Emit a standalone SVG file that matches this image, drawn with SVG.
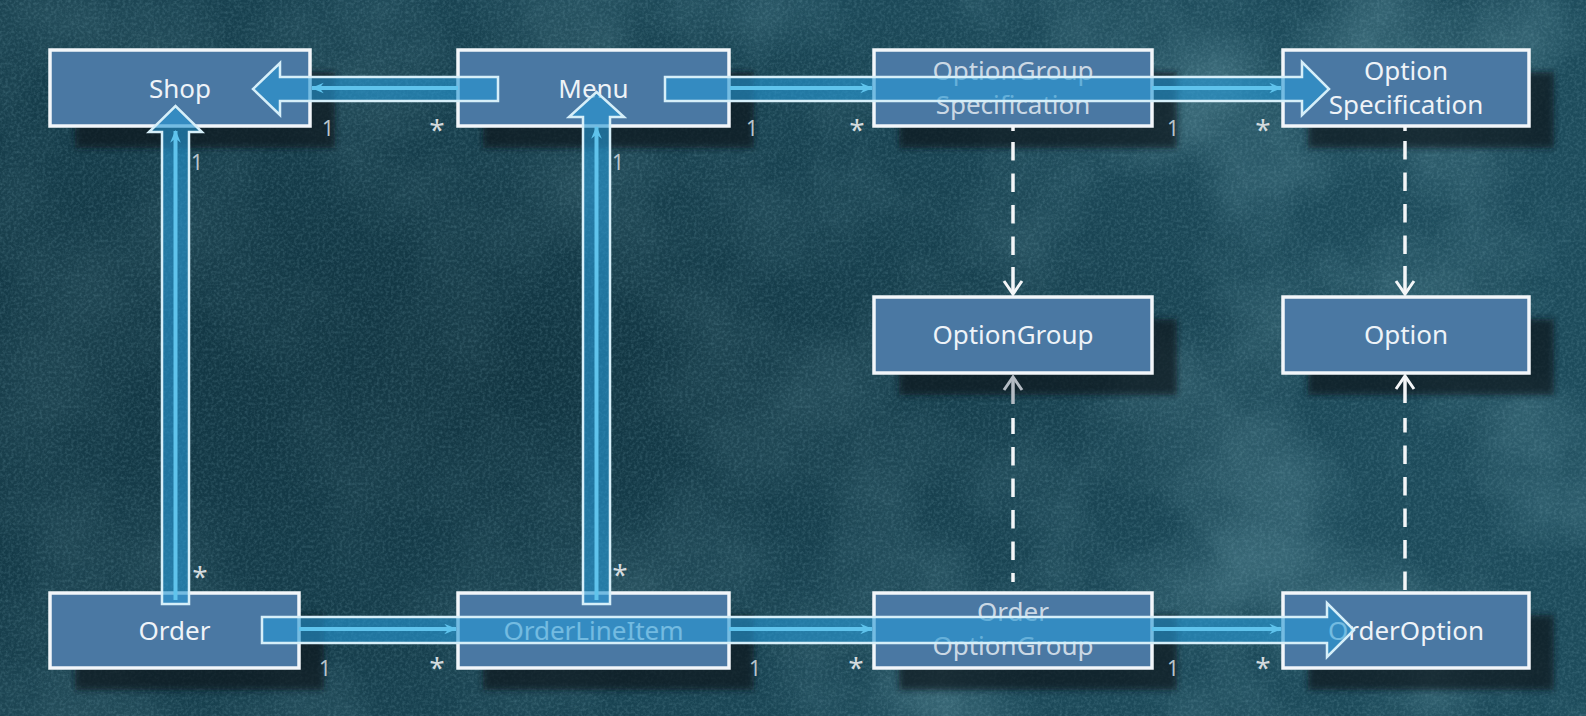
<svg xmlns="http://www.w3.org/2000/svg" width="1586" height="716" viewBox="0 0 1586 716">
<defs>
<style>
.box{fill:#4a78a3;stroke:#f2f6fa;stroke-width:3.5}
.shadow{fill:#08171d;opacity:0.7;filter:url(#blur)}
.t{font-family:"Noto Sans","Open Sans","DejaVu Sans",sans-serif;font-size:26px;fill:#eef3f8;text-anchor:middle;dominant-baseline:central}
.band{fill:#2698d4;fill-opacity:0.62;stroke:#d6eff9;stroke-width:2.5;stroke-linejoin:miter}
.inner{stroke:#5fc3ec;stroke-width:4;fill:none;marker-end:url(#ih)}
.dash{stroke:#f4f6f8;stroke-width:3.5;fill:none;stroke-dasharray:18.5 13}
.solid{stroke:#f4f6f8;stroke-width:3.5;fill:none}
.head{stroke:#f4f6f8;stroke-width:3;fill:none;stroke-linejoin:miter}
.m1{font-family:"Noto Sans","DejaVu Sans",sans-serif;font-size:21px;fill:#b9c5cc;text-anchor:middle}
.ms{font-family:"Noto Sans","DejaVu Sans",sans-serif;font-size:28px;fill:#d3dade;text-anchor:middle}
</style>
<filter id="blur" x="-10%" y="-20%" width="120%" height="140%"><feGaussianBlur stdDeviation="3"/></filter>
<filter id="tex" x="0" y="0" width="100%" height="100%">
<feTurbulence type="fractalNoise" baseFrequency="0.006" numOctaves="5" seed="7"/>
<feColorMatrix type="matrix" values="0 0 0 0 0.2  0 0 0 0 0.43  0 0 0 0 0.5  1.5 0 0 0 -0.6"/>
</filter>
<filter id="grain" x="0" y="0" width="100%" height="100%">
<feTurbulence type="fractalNoise" baseFrequency="0.35" numOctaves="2" seed="2"/>
<feColorMatrix type="matrix" values="0 0 0 0 0.28  0 0 0 0 0.52  0 0 0 0 0.6  1.4 0 0 0 -0.55"/>
</filter>
<radialGradient id="vig" cx="0.32" cy="0.52" r="0.55">
<stop offset="0" stop-color="#0c2a35" stop-opacity="0.6"/>
<stop offset="1" stop-color="#0c2a35" stop-opacity="0"/>
</radialGradient>
<linearGradient id="tl" x1="0" y1="0" x2="1" y2="0">
<stop offset="0" stop-color="#0f2f3b" stop-opacity="0.45"/>
<stop offset="0.5" stop-color="#0f2f3b" stop-opacity="0.1"/>
<stop offset="1" stop-color="#0f2f3b" stop-opacity="0"/>
</linearGradient>
<marker id="ih" viewBox="0 0 12 10" refX="11" refY="5" markerWidth="3.2" markerHeight="3.2" orient="auto" markerUnits="strokeWidth">
<path d="M0,0 L12,5 L0,10 L4,5 Z" fill="#5fc3ec"/>
</marker>
</defs>

<g id="background">
<rect width="1586" height="716" fill="#1d4b5b"/>
<rect width="1586" height="716" filter="url(#tex)" opacity="0.5"/>
<rect width="1586" height="716" fill="url(#tl)"/>
<rect width="1586" height="716" fill="url(#vig)"/>
<rect width="1586" height="716" filter="url(#grain)" opacity="0.3"/>
</g>

<g id="shadows">
<rect class="shadow" x="75" y="72" width="260" height="76"/>
<rect class="shadow" x="483" y="72" width="271" height="76"/>
<rect class="shadow" x="899" y="72" width="278" height="76"/>
<rect class="shadow" x="1308" y="72" width="246" height="76"/>
<rect class="shadow" x="899" y="319" width="278" height="76"/>
<rect class="shadow" x="1308" y="319" width="246" height="76"/>
<rect class="shadow" x="75" y="615" width="249" height="75"/>
<rect class="shadow" x="483" y="615" width="271" height="75"/>
<rect class="shadow" x="899" y="615" width="278" height="75"/>
<rect class="shadow" x="1308" y="615" width="246" height="75"/>
</g>

<g id="node-shop"><rect class="box" x="50" y="50" width="260" height="76"/><text class="t" x="180" y="88">Shop</text></g>
<g id="node-menu"><rect class="box" x="458" y="50" width="271" height="76"/><text class="t" x="593.5" y="88">Menu</text></g>
<g id="node-optiongroupspec"><rect class="box" x="874" y="50" width="278" height="76"/><text class="t" x="1013" y="70" style="fill-opacity:0.8">OptionGroup</text><text class="t" x="1013" y="104" style="fill-opacity:0.8">Specification</text></g>
<g id="node-optionspec"><rect class="box" x="1283" y="50" width="246" height="76"/><text class="t" x="1406" y="70">Option</text><text class="t" x="1406" y="104">Specification</text></g>
<g id="node-optiongroup"><rect class="box" x="874" y="297" width="278" height="76"/><text class="t" x="1013" y="334">OptionGroup</text></g>
<g id="node-option"><rect class="box" x="1283" y="297" width="246" height="76"/><text class="t" x="1406" y="334">Option</text></g>
<g id="node-order"><rect class="box" x="50" y="593" width="249" height="75"/><text class="t" x="174.5" y="630">Order</text></g>
<g id="node-orderlineitem"><rect class="box" x="458" y="593" width="271" height="75"/><text class="t" x="593.5" y="630">OrderLineItem</text></g>
<g id="node-orderoptiongroup"><rect class="box" x="874" y="593" width="278" height="75"/><text class="t" x="1013" y="611" style="fill-opacity:0.8">Order</text><text class="t" x="1013" y="645" style="fill-opacity:0.8">OptionGroup</text></g>
<g id="node-orderoption"><rect class="box" x="1283" y="593" width="246" height="75"/><text class="t" x="1406" y="630">OrderOption</text></g>

<g id="connectors">
<!-- Menu -> Shop -->
<path class="band" d="M498,77 H280 V63 L253,89 L280,115 V101 H498 Z"/>
<line class="inner" x1="458" y1="88" x2="312" y2="88"/>
<!-- Order -> Shop -->
<path class="band" d="M162,604 V132 H149 L175.5,106 L202,132 H189 V604 Z"/>
<line class="inner" x1="175.5" y1="600" x2="175.5" y2="131"/>
<!-- OrderLineItem -> Menu -->
<path class="band" d="M583,604 V117 H569 L596.5,92 L624,117 H610 V604 Z"/>
<line class="inner" x1="596.5" y1="600" x2="596.5" y2="127"/>
<!-- Menu -> OptionGroupSpecification -> OptionSpecification -->
<path class="band" d="M665,77 H1302 V62 L1329,89 L1302,115 V101 H665 Z"/>
<line class="inner" x1="730" y1="88" x2="872" y2="88"/>
<line class="inner" x1="1152" y1="88" x2="1281" y2="88"/>
<!-- Order -> OrderLineItem -> OrderOptionGroup -> OrderOption -->
<path class="band" d="M262,617 H1327 V603 L1354,630 L1327,657 V643 H262 Z"/>
<line class="inner" x1="299" y1="629" x2="456" y2="629"/>
<line class="inner" x1="729" y1="629" x2="872" y2="629"/>
<line class="inner" x1="1152" y1="629" x2="1281" y2="629"/>
<!-- dashed dependencies -->
<path class="solid" d="M1013,127 V131"/>
<path class="dash" d="M1013,142 V256"/>
<path class="solid" d="M1013,267 V293"/>
<path class="head" d="M1004,281 L1013,294 L1022,281"/>
<path class="solid" d="M1405,127 V131"/>
<path class="dash" d="M1405,141 V255"/>
<path class="solid" d="M1405,266 V293"/>
<path class="head" d="M1396,281 L1405,294 L1414,281"/>
<path class="dash" d="M1013,582 V418" style="stroke-dashoffset:9.5"/>
<path class="solid" d="M1013,404 V378" style="stroke:#b4bcc4"/>
<path class="head" d="M1004,390 L1013,377 L1022,390" style="stroke:#b4bcc4"/>
<path class="dash" d="M1405,590 V418"/>
<path class="solid" d="M1405,403 V377"/>
<path class="head" d="M1396,389 L1405,376 L1414,389"/>
</g>

<g id="multiplicities">
<text class="m1" x="328" y="136">1</text><text class="ms" x="437" y="140">*</text>
<text class="m1" x="197" y="170">1</text><text class="ms" x="200" y="587">*</text>
<text class="m1" x="618" y="170">1</text><text class="ms" x="620" y="585">*</text>
<text class="m1" x="752" y="136">1</text><text class="ms" x="857" y="140">*</text>
<text class="m1" x="1173" y="136">1</text><text class="ms" x="1263" y="140">*</text>
<text class="m1" x="325" y="676">1</text><text class="ms" x="437" y="678">*</text>
<text class="m1" x="755" y="676">1</text><text class="ms" x="856" y="678">*</text>
<text class="m1" x="1173" y="676">1</text><text class="ms" x="1263" y="678">*</text>
</g>
</svg>
